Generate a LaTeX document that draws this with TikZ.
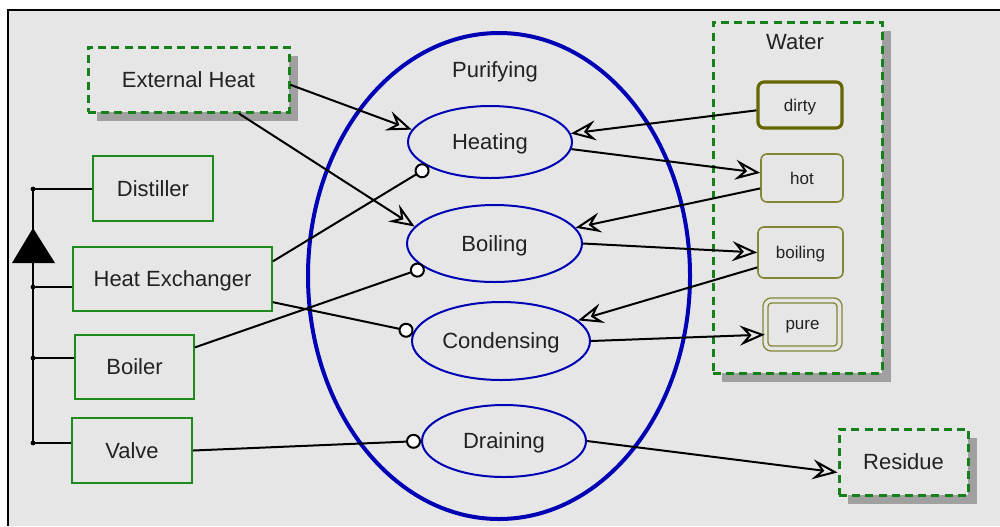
\documentclass[tikz,border=0pt]{standalone}
\usepackage{fontspec}
\setmainfont{Liberation Sans}
\usetikzlibrary{shapes.geometric, arrows.meta, shadows}

\definecolor{bggray}{HTML}{E6E6E6}
\definecolor{shadowgray}{HTML}{A0A0A0}
\definecolor{boxgreen}{HTML}{1E8A1E}
\definecolor{dashgreen}{HTML}{17801A}
\definecolor{procblue}{HTML}{0000B4}
\definecolor{statedark}{HTML}{666600}
\definecolor{stateolive}{HTML}{858536}
\definecolor{txt}{HTML}{222222}

\begin{document}
\begin{tikzpicture}[x=0.5pt, y=-0.5pt,
    font=\fontsize{11}{13}\selectfont, text=txt,
    envobj/.style={draw=dashgreen, dash pattern=on 4pt off 2.6pt, line width=1.5pt, fill=bggray, text depth=0pt,
        drop shadow={shadow xshift=4.25pt, shadow yshift=-4.25pt, fill=shadowgray, opacity=1}},
    sysobj/.style={draw=boxgreen, line width=1pt, fill=bggray, text depth=0pt},
    proc/.style={ellipse, draw=procblue, line width=1pt, fill=bggray, inner sep=0pt, text depth=0pt},
    state/.style={rounded corners=3pt, draw=stateolive, line width=0.8pt, fill=bggray, text depth=0pt,
        font=\fontsize{8.5}{10}\selectfont},
    flow/.style={-{Stealth[open, length=12.5pt, width=10pt, inset=4.5pt]}, line width=1pt},
    instr/.style={-{Circle[length=7.5pt, fill=white]}, line width=1pt}]
        \useasboundingbox (0,0) rectangle (1000,526);
        \fill[bggray] (8,10) rectangle (1000,526);
        \draw[line width=1pt] (8,526) -- (8,10) -- (1000,10);

        % objects on the left
        \node[envobj, minimum width=100.5pt, minimum height=32.5pt] (heat) at (188.5,79.5) {External Heat};
        \node[sysobj, minimum width=60pt, minimum height=32.5pt] (distiller) at (153,188.5) {Distiller};
        \node[sysobj, minimum width=99.5pt, minimum height=32pt] (exchanger) at (172.5,279) {Heat Exchanger};
        \node[sysobj, minimum width=59.5pt, minimum height=32pt] (boiler) at (134.5,367) {Boiler};
        \node[sysobj, minimum width=60pt, minimum height=32.5pt] (valve) at (132,450.5) {Valve};

        % aggregation tree
        \coordinate (treetop) at (33,189);
        \coordinate (treeexchanger) at (33,287);
        \coordinate (treeboiler) at (33,358);
        \coordinate (treevalve) at (33,443);
        \draw[line width=1pt] (treetop) -- (treetop -| distiller.west);
        \draw[line width=1.3pt] (treetop) -- (treevalve);
        \fill (33,228) -- (55,263) -- (12,263) -- cycle;
        \foreach \j/\part in {treeexchanger/exchanger, treeboiler/boiler, treevalve/valve}
            \draw[line width=1pt] (\j) -- (\j -| \part.west);
        \foreach \j in {treetop, treeexchanger, treeboiler, treevalve}
            \fill (\j) circle[radius=1.2pt];

        % main process
        \node[ellipse, draw=procblue, line width=2pt, inner sep=0pt,
            minimum width=191pt, minimum height=243pt] (purifying) at (499,276) {};
        \node[text depth=0pt] (purifyinglabel) at (495,70) {Purifying};
        \node[proc, minimum width=82pt, minimum height=36pt] (heating) at (490,142) {Heating};
        \node[proc, minimum width=87.5pt, minimum height=38.5pt] (boiling) at (494.5,243.5) {Boiling};
        \node[proc, minimum width=89pt, minimum height=39pt] (condensing) at (501,341) {Condensing};
        \node[proc, minimum width=82pt, minimum height=36pt] (draining) at (504,441) {Draining};

        % water and its states
        \node[envobj, minimum width=84.5pt, minimum height=175.5pt] (water) at (797.5,197.5) {};
        \node[text depth=0pt] (waterlabel) at (795,42) {Water};
        \node[state, draw=statedark, line width=1.6pt, minimum width=42pt, minimum height=23pt] (dirty) at (800,105) {dirty};
        \node[state, minimum width=41pt, minimum height=24pt] (hot) at (802,178) {hot};
        \node[state, minimum width=42.5pt, minimum height=25.5pt] (boilingwater) at (800.5,252.5) {boiling};
        \node[state, double=bggray, double distance=1.8pt, line width=0.7pt,
            minimum width=37pt, minimum height=24pt] (pure) at (802.5,324.5) {pure};
        \node[envobj, minimum width=64.5pt, minimum height=33pt] (residue) at (903.5,462) {Residue};

        % links
        \draw[flow] (heat.-3) -- (heating.171);
        \draw[flow] (heat.-34) -- (boiling.168);
        \draw[instr] (exchanger.10) -- (heating.202);
        \draw[instr] (boiler.18) -- (boiling.199);
        \draw[instr] (exchanger.-13) -- (condensing.174);
        \draw[instr] (valve.east) -- (draining.west);
        \draw[flow] (dirty.187) -- (heating.6);
        \draw[flow] (heating.-5) -- (hot.173);
        \draw[flow] (hot.194) -- (boiling.11);
        \draw[flow] (boiling.east) -- (boilingwater.west);
        \draw[flow] (boilingwater.199) -- (condensing.15);
        \draw[flow] (condensing.east) -- (pure.195);
        \draw[flow] (draining.east) -- (residue.189);
    \end{tikzpicture}
\end{document}
